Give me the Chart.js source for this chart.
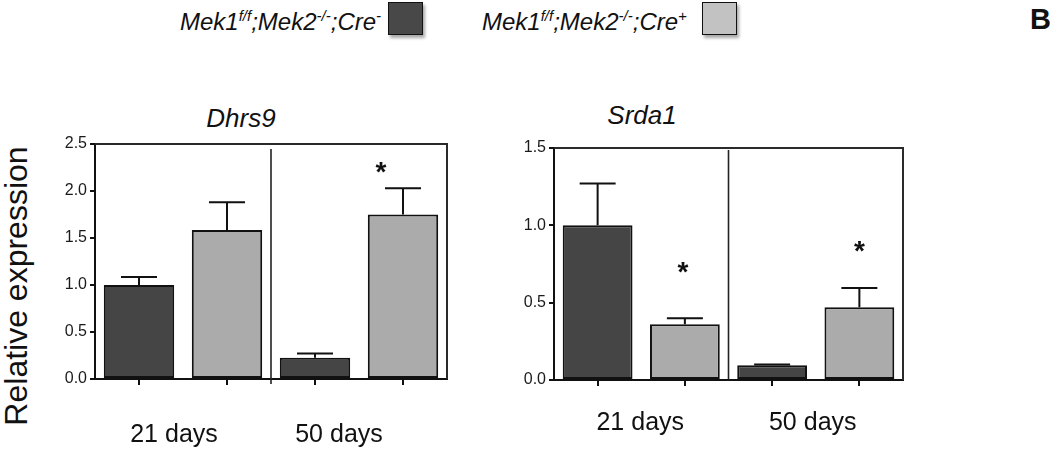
<!DOCTYPE html>
<html>
<head>
<meta charset="utf-8">
<script src="https://cdn.jsdelivr.net/npm/chart.js@4.4.1/dist/chart.umd.min.js"></script>
<style>
  html, body { margin:0; padding:0; background:#fff; }
  body { width:1050px; height:453px; position:relative; overflow:hidden; font-family:'Liberation Sans', Arial, sans-serif; color:#111; }
  .abs { position:absolute; white-space:nowrap; }
  .leg { font-size:24px; font-style:italic; line-height:24px; top:10px; }
  .leg .s { font-size:15px; position:relative; top:-9px; }
  .box { width:33px; height:31px; border:1px solid #111; box-shadow:2px 3px 3px rgba(0,0,0,0.35); top:2px; }
  .ttl { font-size:26px; font-style:italic; line-height:26px; width:200px; text-align:center; }
  canvas { position:absolute; }
</style>
</head>
<body>
<div class="abs leg" style="left:180px;">Mek1<span class="s">f/f</span>;Mek2<span class="s">-/-</span>;Cre<span class="s">-</span></div>
<div class="abs box" style="left:388px; background:#484848;"></div>
<div class="abs leg" style="left:482px;">Mek1<span class="s">f/f</span>;Mek2<span class="s">-/-</span>;Cre<span class="s">+</span></div>
<div class="abs box" style="left:702px; background:#c2c2c2;"></div>
<div class="abs" style="left:1030px; top:5px; font-size:29px; font-weight:bold; line-height:29px;">B</div>
<div class="abs ttl" style="left:141px; top:105px;">Dhrs9</div>
<div class="abs ttl" style="left:542px; top:102px;">Srda1</div>
<div class="abs" style="left:16px; top:286px; font-size:32px; line-height:32px; transform:translate(-50%,-50%) rotate(-90deg);">Relative expression</div>
<canvas id="c1" width="470" height="363" style="left:0px; top:90px;"></canvas>
<canvas id="c2" width="450" height="363" style="left:470px; top:90px;"></canvas>
<script>
// ---- data ----
const categories = ['21 days Cre-', '21 days Cre+', '50 days Cre-', '50 days Cre+'];
const groupLabels = ['21 days', '50 days'];
const dhrs9Values = [1.0, 1.585, 0.227, 1.75];
const dhrs9Errors = [0.085, 0.295, 0.045, 0.28];
const dhrs9Ticks = [0, 0.5, 1.0, 1.5, 2.0, 2.5];
const dhrs9Stars = [{ index: 3, value: 2.28 }];
const srda1Values = [1.0, 0.36, 0.095, 0.47];
const srda1Errors = [0.27, 0.04, 0.006, 0.125];
const srda1Ticks = [0, 0.5, 1.0, 1.5];
const srda1Stars = [{ index: 1, value: 0.745 }, { index: 3, value: 0.88 }];

const barColors = ['#454545', '#ababab', '#454545', '#ababab'];
const FONT = "'Liberation Sans', Arial, sans-serif";

const annot = {
  id: 'annot',
  afterDatasetsDraw(chart, args, o) {
    const ctx = chart.ctx, xs = chart.scales.x, ys = chart.scales.y, a = chart.chartArea;
    const meta = chart.getDatasetMeta(0);
    const vals = chart.data.datasets[0].data;
    ctx.save();
    // frame (top + right)
    ctx.strokeStyle = '#2a2a2a'; ctx.lineWidth = 2;
    ctx.beginPath();
    ctx.moveTo(a.left, a.top); ctx.lineTo(a.right, a.top); ctx.lineTo(a.right, a.bottom);
    ctx.stroke();
    // divider
    const dx = (xs.getPixelForValue(1) + xs.getPixelForValue(2)) / 2;
    ctx.lineWidth = 1.6; ctx.strokeStyle = '#222';
    ctx.beginPath(); ctx.moveTo(dx, a.top + o.dividerTop); ctx.lineTo(dx, a.bottom + o.dividerBottom); ctx.stroke();
    // error bars
    ctx.strokeStyle = '#111'; ctx.lineWidth = 2;
    o.errors.forEach((e, i) => {
      const bx = meta.data[i].x;
      const y0 = ys.getPixelForValue(vals[i]);
      const y1 = ys.getPixelForValue(vals[i] + e);
      ctx.beginPath();
      ctx.moveTo(bx, y0); ctx.lineTo(bx, y1);
      ctx.moveTo(bx - o.cap, y1); ctx.lineTo(bx + o.cap, y1);
      ctx.stroke();
    });
    // stars
    ctx.fillStyle = '#111';
    ctx.font = 'bold 28px ' + FONT;
    ctx.textAlign = 'center'; ctx.textBaseline = 'alphabetic';
    o.stars.forEach((s, k) => {
      const sx = xs.getPixelForValue(s.index) + (o.starDx[k] || 0);
      const sy = ys.getPixelForValue(s.value) + 16;
      ctx.fillText('*', sx, sy);
    });
    // group labels
    ctx.font = '25px ' + FONT;
    groupLabels.forEach((g, k) => {
      const cx = (xs.getPixelForValue(2 * k) + xs.getPixelForValue(2 * k + 1)) / 2 + o.labelDx[k];
      ctx.fillText(g, cx, a.bottom + o.labelDy);
    });
    ctx.restore();
  }
};

function makeChart(id, values, errors, ticks, stars, yWidth, xHeight, pad, extra) {
  return new Chart(document.getElementById(id), {
    type: 'bar',
    data: {
      labels: categories,
      datasets: [{
        data: values,
        backgroundColor: barColors,
        borderColor: '#111',
        borderWidth: 2,
        borderSkipped: false,
        barPercentage: 0.8,
        categoryPercentage: 1.0
      }]
    },
    options: {
      responsive: false,
      devicePixelRatio: 1,
      animation: false,
      layout: { padding: pad },
      plugins: {
        legend: { display: false },
        tooltip: { enabled: false },
        annot: Object.assign({ errors: errors, stars: stars, cap: 18 }, extra)
      },
      scales: {
        x: {
          offset: true,
          grid: { display: true, offset: false, drawOnChartArea: false, drawTicks: true, tickLength: 6, color: '#111', lineWidth: 2 },
          border: { display: true, color: '#111', width: 2 },
          ticks: { display: false },
          afterFit: s => { s.height = xHeight; }
        },
        y: {
          min: 0,
          max: ticks[ticks.length - 1],
          afterBuildTicks: s => { s.ticks = ticks.map(v => ({ value: v })); },
          grid: { display: true, drawOnChartArea: false, drawTicks: true, tickLength: 5, color: '#111', lineWidth: 2 },
          border: { display: true, color: '#111', width: 2 },
          ticks: {
            color: '#1a1a1a', padding: 3,
            font: { family: FONT, size: 16 },
            callback: v => Number(v).toFixed(1)
          },
          afterFit: s => { s.width = yWidth; }
        }
      }
    },
    plugins: [annot]
  });
}

makeChart('c1', dhrs9Values, dhrs9Errors, dhrs9Ticks, dhrs9Stars, 95, 74,
  { left: 0, top: 54, right: 23, bottom: 0 },
  { starDx: [-22], labelDx: [-9, -20], labelDy: 63, dividerTop: 5, dividerBottom: 5 });
makeChart('c2', srda1Values, srda1Errors, srda1Ticks, srda1Stars, 84, 73,
  { left: 0, top: 58, right: 17, bottom: 0 },
  { starDx: [-2, 0], labelDx: [-1, -3], labelDy: 50, dividerTop: 2, dividerBottom: 0 });
</script>
</body>
</html>
